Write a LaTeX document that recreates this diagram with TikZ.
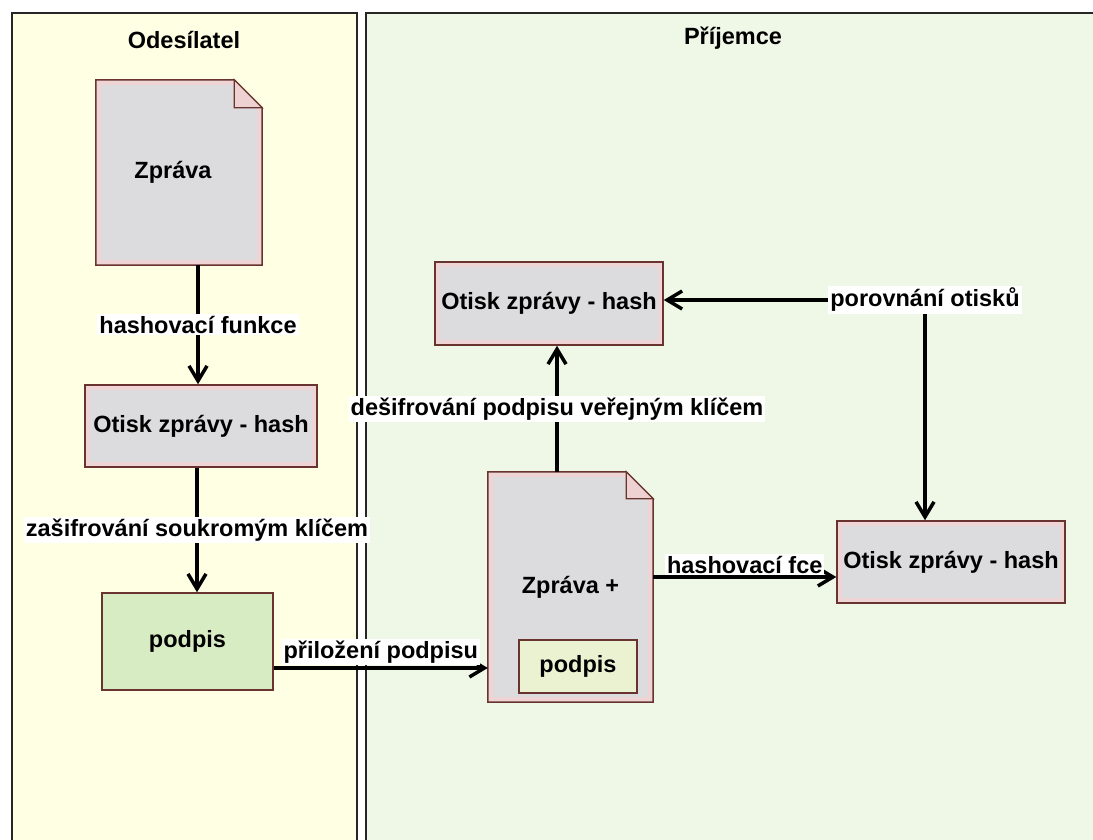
\documentclass[tikz,border=0pt]{standalone}
\usepackage{fontspec}
\setmainfont{Liberation Sans}
\usetikzlibrary{arrows.meta,calc}
\pgfdeclarelayer{lanes}
\pgfdeclarelayer{bg}
\pgfsetlayers{lanes,bg,main}
\definecolor{laneY}{RGB}{255,255,228}
\definecolor{laneG}{RGB}{239,248,231}
\definecolor{boxgrey}{RGB}{220,220,222}
\definecolor{boxedge}{RGB}{238,212,212}
\definecolor{boxline}{RGB}{105,52,48}
\definecolor{foldpink}{RGB}{238,210,210}
\definecolor{sigfill}{RGB}{216,236,196}
\definecolor{sigfill2}{RGB}{234,242,210}
\tikzset{
  txt/.style={font=\bfseries\fontsize{23.5}{28}\selectfont, text=black},
  box/.style={txt, rectangle, fill=boxgrey, draw=boxline, line width=1.5pt,
    path picture={\draw[boxedge, line width=10pt] (path picture bounding box.south west) rectangle (path picture bounding box.north east);}},
  sigbox/.style={txt, rectangle, fill=sigfill, draw=boxline, line width=1.5pt},
  sigbox2/.style={txt, rectangle, fill=sigfill2, draw=boxline, line width=1.5pt},
  docnode/.style={txt, rectangle, inner sep=0pt},
  lab/.style={txt, fill=white, inner sep=2pt},
  lanetitle/.style={txt},
  arr/.style={line width=3.5pt, -{Straight Barb[length=15pt,width=18pt]}},
  lane/.style={draw=black!85, line width=2.5pt}
}
\newcommand\mydoc[2]{%
  \begin{scope}
    \path[clip] (#1.north west) -- ($(#1.north east)+(-#2,0)$) -- ($(#1.north east)+(0,#2)$) -- (#1.south east) -- (#1.south west) -- cycle;
    \fill[boxgrey] (#1.north west) rectangle (#1.south east);
    \draw[boxedge, line width=10pt] (#1.north west) rectangle (#1.south east);
    \draw[boxedge, line width=10pt] ($(#1.north east)+(-#2,0)$) -- ($(#1.north east)+(0,#2)$);
  \end{scope}
  \draw[boxline, line width=1.5pt, line join=miter] (#1.north west) -- ($(#1.north east)+(-#2,0)$) -- ($(#1.north east)+(0,#2)$) -- (#1.south east) -- (#1.south west) -- cycle;
  \filldraw[fill=foldpink, draw=boxline, line width=1.2pt, line join=miter] ($(#1.north east)+(-#2,0)$) -- ($(#1.north east)+(-#2,#2)$) -- ($(#1.north east)+(0,#2)$) -- cycle;
}
\begin{document}
\begin{tikzpicture}[x=1pt,y=-1pt]
\useasboundingbox (0,0) rectangle (1093,840);
\begin{pgfonlayer}{lanes}
  \fill[white] (0,0) rectangle (1093,840);
  \filldraw[lane, fill=laneY] (12,13) rectangle (357,860);
  \filldraw[lane, fill=laneG] (366,13) rectangle (1110,860);
\end{pgfonlayer}
\node[lanetitle] (t1) at (184,40) {Odesílatel};
\node[lanetitle] (t2) at (733,38) {Příjemce};

% sender
\node[docnode, minimum width=166, minimum height=185] (doc1) at (179,172.5) {\hspace*{-12pt}Zpráva};
\begin{pgfonlayer}{bg}\mydoc{doc1}{28}\end{pgfonlayer}
\node[box, minimum width=232, minimum height=82, inner sep=0pt] (hash1) at (201,426) {Otisk zprávy - hash};
\node[sigbox, minimum width=171, minimum height=97, inner sep=0pt] (sig1) at (187.5,641.5) {podpis};

% receiver
\node[docnode, minimum width=165, minimum height=230] (doc2) at (570.5,587) {Zpráva +};
\begin{pgfonlayer}{bg}\mydoc{doc2}{27}\end{pgfonlayer}
\node[sigbox2, minimum width=118, minimum height=53, inner sep=0pt] (sig2) at (578,666.5) {podpis};
\node[box, minimum width=228, minimum height=83, inner sep=0pt] (hash2) at (549,303.5) {Otisk zprávy - hash};
\node[box, minimum width=228, minimum height=82, inner sep=0pt] (hash3) at (951,562) {Otisk zprávy - hash};
\node[lab] (por) at (925,300) {porovnání otisků};

% connectors
\coordinate (xa) at (198,0);
\coordinate (xb) at (197,0);
\coordinate (xc) at (557,0);
\coordinate (ya) at (0,668);
\coordinate (yb) at (0,577);
\draw[arr] (doc1.south -| xa) -- node[lab]{hashovací funkce} (hash1.north -| xa);
\draw[arr] (hash1.south -| xb) -- node[lab]{zašifrování soukromým klíčem} (sig1.north -| xb);
\draw[arr] (sig1.east |- ya) -- node[lab, above=1pt]{přiložení podpisu} (doc2.west |- ya);
\draw[arr] (doc2.north -| xc) -- node[lab]{dešifrování podpisu veřejným klíčem} (hash2.south -| xc);
\draw[arr] (doc2.east |- yb) -- node[lab, above=0pt]{hashovací fce} (hash3.west |- yb);
\draw[arr] (por.west) -- (hash2.east |- por.west);
\draw[arr] (por.south) -- (por.south |- hash3.north);
\end{tikzpicture}
\end{document}
